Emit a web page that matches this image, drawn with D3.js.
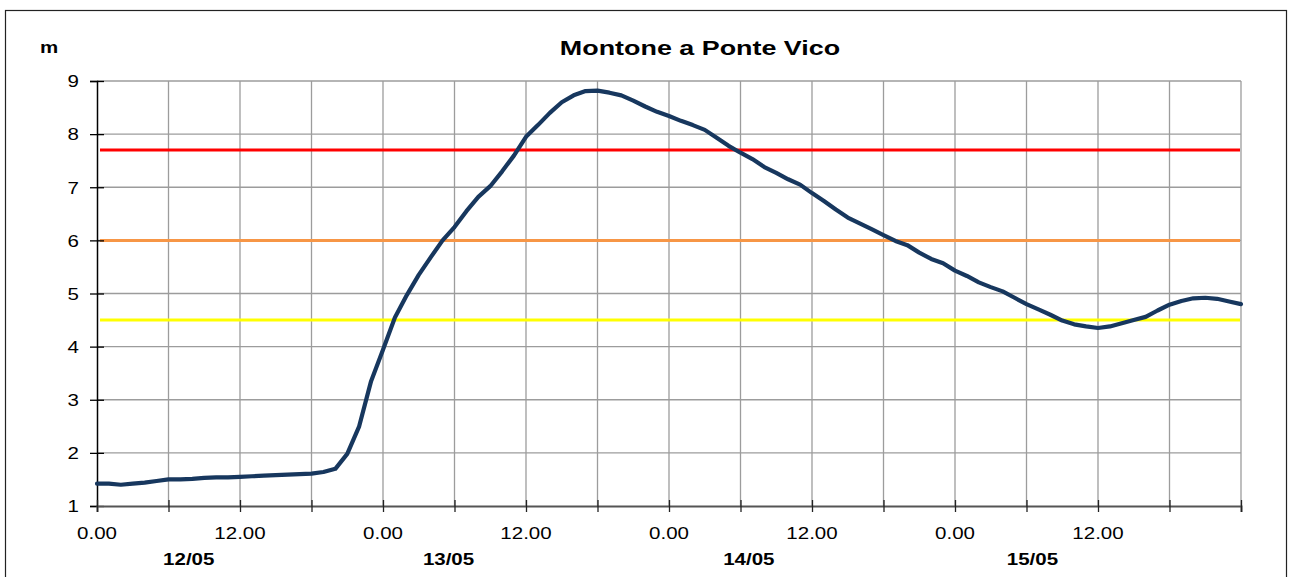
<!DOCTYPE html>
<html><head><meta charset="utf-8">
<script src="https://cdn.jsdelivr.net/npm/d3@7"></script>
<style>body{margin:0;background:#fff}svg{display:block;font-family:"Liberation Sans",Arial,sans-serif}</style>
</head><body><svg id="c" width="1290" height="577"></svg>
<script>
// hours since 12/05 00:00, hourly water level (m)
const levels = [1.42,1.42,1.40,1.42,1.44,1.47,1.50,1.50,1.51,1.53,1.54,1.54,1.55,1.56,1.57,1.58,1.59,1.60,1.61,1.64,1.70,1.98,2.50,3.35,3.94,4.55,4.97,5.35,5.68,6.00,6.25,6.55,6.82,7.02,7.30,7.60,7.95,8.17,8.40,8.60,8.73,8.81,8.82,8.78,8.73,8.63,8.52,8.42,8.34,8.25,8.17,8.08,7.93,7.78,7.65,7.53,7.38,7.27,7.15,7.05,6.89,6.74,6.58,6.43,6.32,6.21,6.10,5.99,5.91,5.77,5.65,5.57,5.43,5.33,5.21,5.12,5.04,4.92,4.80,4.70,4.60,4.49,4.42,4.38,4.35,4.38,4.44,4.50,4.56,4.68,4.79,4.86,4.91,4.92,4.90,4.85,4.80];
const thresholds = [{v:7.7,c:"#ff0000"},{v:6.0,c:"#f79646"},{v:4.5,c:"#ffff00"}];
const yTicks = [1,2,3,4,5,6,7,8,9];
const xTickHours = d3.range(0,97,6);
const xLabelHours = [0,12,24,36,48,60,72,84];
const xLabels = ["0.00","12.00","0.00","12.00","0.00","12.00","0.00","12.00"];
const dayLabels = ["12/05","13/05","14/05","15/05"];
const dayLabelHours = [7.7,29.5,54.7,78.5];
const title = "Montone a Ponte Vico";
const unit = "m";

const svg = d3.select("#c");
const L=97,R=1241,T=81,B=506;
const x = d3.scaleLinear().domain([0,96]).range([L,R]);
const y = d3.scaleLinear().domain([1,9]).range([B,T]);

svg.append("rect").attr("x",5.5).attr("y",10.5).attr("width",1281).attr("height",600)
  .attr("fill","none").attr("stroke","#222").attr("stroke-width",1.2);

// grid
svg.append("g").selectAll("line").data(yTicks.slice(1)).join("line")
  .attr("x1",L).attr("x2",R).attr("y1",d=>y(d)).attr("y2",d=>y(d))
  .attr("stroke","#9c9c9c").attr("stroke-width",1.3);
svg.append("g").selectAll("line").data(xTickHours.slice(1)).join("line")
  .attr("x1",d=>x(d)).attr("x2",d=>x(d)).attr("y1",T).attr("y2",B)
  .attr("stroke","#9c9c9c").attr("stroke-width",1.3);

// thresholds
svg.append("g").selectAll("line").data(thresholds).join("line")
  .attr("x1",L+3).attr("x2",R-1).attr("y1",d=>y(d.v)).attr("y2",d=>y(d.v))
  .attr("stroke",d=>d.c).attr("stroke-width",3);

// axes
const ya = svg.append("g").attr("transform",`translate(${L},0)`)
  .call(d3.axisLeft(y).tickValues(yTicks).tickSize(7).tickPadding(11));
ya.select(".domain").attr("stroke","#000").attr("stroke-width",1.5);
ya.selectAll(".tick line").attr("stroke","#000").attr("stroke-width",1.3).attr("x2",7).attr("x1",-7);
ya.selectAll("text").attr("font-size",16).attr("fill","#000").attr("font-family","Liberation Sans, Arial").attr("dy","0.36em");

const xa = svg.append("g").attr("transform",`translate(0,${B})`)
  .call(d3.axisBottom(x).tickValues(xTickHours).tickSize(6).tickFormat(""));
xa.select(".domain").attr("stroke","#555").attr("stroke-width",2);
xa.selectAll(".tick line").attr("stroke","#222").attr("stroke-width",1.3).attr("y1",-6).attr("y2",6);

svg.append("g").selectAll("text").data(xLabelHours).join("text")
  .attr("x",d=>x(d)).attr("y",539).attr("text-anchor","middle")
  .attr("font-size",16).attr("fill","#000").text((d,i)=>xLabels[i]);
svg.append("g").selectAll("text").data(dayLabelHours).join("text")
  .attr("x",d=>x(d)).attr("y",565).attr("text-anchor","middle")
  .attr("font-size",16).attr("font-weight","bold").attr("fill","#000").text((d,i)=>dayLabels[i]);

// series
svg.append("path").datum(levels)
  .attr("d",d3.line().x((d,i)=>x(i)).y(d=>y(d)))
  .attr("fill","none").attr("stroke","#17375e").attr("stroke-width",4.2)
  .attr("stroke-linejoin","round").attr("stroke-linecap","round");

svg.append("text").attr("x",700).attr("y",55).attr("text-anchor","middle")
  .attr("font-size",21).attr("font-weight","bold").text(title);
svg.append("text").attr("x",40).attr("y",53)
  .attr("font-size",16).attr("font-weight","bold").text(unit);

// horizontally widened lettering, as in the reference
svg.selectAll("text").each(function(){
  const w = this.getComputedTextLength();
  d3.select(this).attr("textLength", w*1.28).attr("lengthAdjust","spacingAndGlyphs");
});
</script></body></html>
